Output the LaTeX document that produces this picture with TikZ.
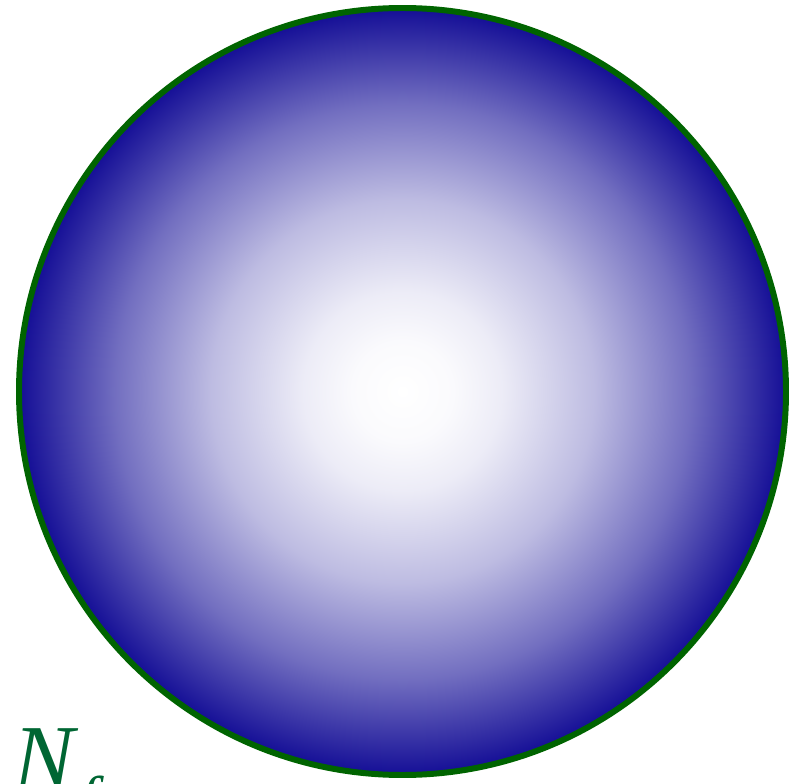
\documentclass[tikz,border=0pt]{standalone}
\usepackage{fontspec}
\usepackage{tikz}
\usetikzlibrary{positioning}
\newfontfamily\labelfont{Liberation Serif}
\definecolor{deepblue}{HTML}{140E96}
\definecolor{rimgreen}{HTML}{006400}
\definecolor{labelgreen}{HTML}{006633}
\pgfdeclareradialshading{sphereshade}{\pgfpoint{0bp}{0bp}}{%
  color(0bp)=(white);
  color(3.25bp)=(white!98!deepblue);
  color(6.5bp)=(white!92!deepblue);
  color(12.5bp)=(white!72!deepblue);
  color(18.75bp)=(white!40!deepblue);
  color(25bp)=(deepblue);
  color(50bp)=(deepblue)}

\begin{document}
\begin{tikzpicture}[
  sphere/.style={
    circle,
    draw=rimgreen,
    line width=3.4pt,
    shading=sphereshade,
    inner sep=0pt,
    minimum size=15.34cm
  }
]

  % Frame of the picture
  \useasboundingbox (0,0) rectangle (15.96,15.66);

  % The sphere
  \node[sphere] (ball) at (8.05,7.83) {};

  % Label in the lower left corner
  \node[anchor=base west, inner sep=0pt, text=labelgreen, font=\labelfont\itshape\fontsize{52}{58}\selectfont] (flavours) at (0.26,-0.1) {N\kern0.06em\raisebox{-0.36em}{\fontsize{36}{36}\selectfont f}};

\end{tikzpicture}
\end{document}
